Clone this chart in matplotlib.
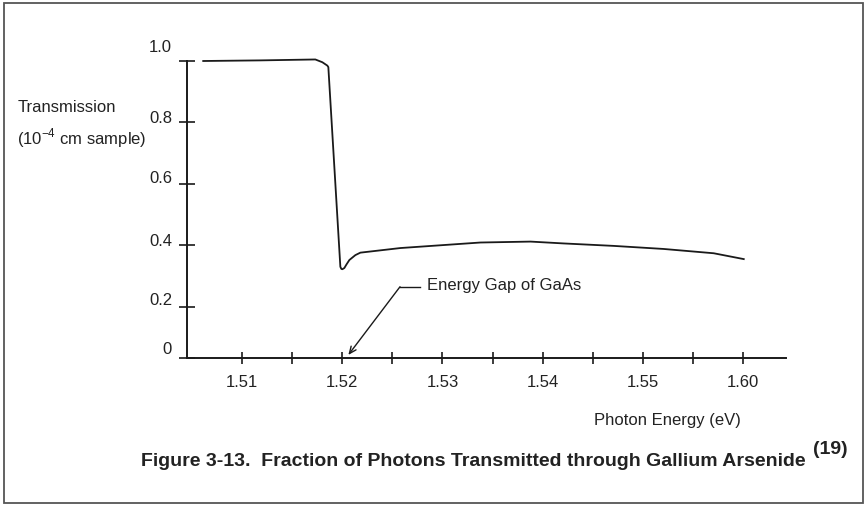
import matplotlib
matplotlib.use("Agg")
import matplotlib.pyplot as plt
from matplotlib.patches import Rectangle

plt.rcParams['font.family'] = ['Liberation Sans', 'DejaVu Sans']

# curve (photon energy in eV, transmission)
energy = [1.5061, 1.5118, 1.5173, 1.5180, 1.5185, 1.5186, 1.5198, 1.5199,
          1.5200, 1.5202, 1.5204, 1.5207, 1.5213, 1.5218, 1.5258, 1.5338,
          1.5388, 1.5421, 1.5471, 1.5521, 1.5571, 1.5601]
transmission = [1.000, 1.002, 1.005, 0.996, 0.985, 0.980, 0.330, 0.323,
                0.322, 0.326, 0.337, 0.352, 0.368, 0.376, 0.391, 0.409,
                0.412, 0.406, 0.398, 0.388, 0.374, 0.355]

x_ticks = [1.51, 1.515, 1.52, 1.525, 1.53, 1.535, 1.54, 1.545, 1.55, 1.555, 1.56]
x_labels = ['1.51', '', '1.52', '', '1.53', '', '1.54', '', '1.55', '', '1.60']
y_ticks = [0.032, 0.2, 0.4, 0.6, 0.8, 1.0]
y_labels = ['0', '0.2', '0.4', '0.6', '0.8', '1.0']
gap_energy = 1.5206

W, H = 865, 505
fig = plt.figure(figsize=(W / 100, H / 100), dpi=100)
ax = fig.add_axes([186.7 / W, (H - 358.3) / H, 599.3 / W, 297.3 / H])

ax.plot(energy, transmission, color='#1a1a1a', lw=1.3, clip_on=False)
ax.set_xlim(1.50445, 1.56432)
ax.set_ylim(y_ticks[0], 1.0)

for s in ['top', 'right']:
    ax.spines[s].set_visible(False)
for s in ['left', 'bottom']:
    ax.spines[s].set_linewidth(1.4)
    ax.spines[s].set_color('#1a1a1a')

ax.set_xticks(x_ticks)
ax.set_xticklabels(x_labels)
ax.set_yticks(y_ticks)
ax.set_yticklabels([])
ax.tick_params(axis='x', direction='inout', length=8, width=1.2, color='#1a1a1a',
               pad=8, labelsize=12, labelcolor='#222222')
ax.tick_params(axis='y', direction='inout', length=11, width=1.2, color='#1a1a1a')

# y tick labels sit a little above their ticks
ytr = ax.get_yaxis_transform()
y_offsets = [6, 4.5, 3, 3.5, 3, 10]
for val, lab, off in zip(y_ticks, y_labels, y_offsets):
    ax.annotate(lab, xy=(0, val), xycoords=ytr, xytext=(-10.5, off),
                textcoords='offset points', ha='right', va='center',
                fontsize=12, color='#222222')

# energy gap label and leader
ax.plot([1.52576, 1.52776], [0.265, 0.265], color='#1a1a1a', lw=1.0)
ax.annotate('', xy=(gap_energy, 0.043), xytext=(1.52576, 0.265),
            arrowprops=dict(arrowstyle='->,head_length=0.5,head_width=0.22',
                            color='#1a1a1a', lw=1.0, shrinkA=0, shrinkB=0))
ax.text(1.52843, 0.268, 'Energy Gap of GaAs', fontsize=12, va='center',
        ha='left', color='#222222')

fig.text(18 / W, 1 - 108 / H, 'Transmission', fontsize=12, va='center',
         color='#222222')
fig.text(17 / W, 1 - 138 / H, r'(10$^{\mathregular{-4}}$ cm sample)', fontsize=12,
         va='center', color='#222222')
fig.text(594 / W, 1 - 420 / H, 'Photon Energy (eV)', fontsize=12, va='center',
         color='#222222')
fig.text(806 / W, 1 - 462 / H,
         'Figure 3-13.  Fraction of Photons Transmitted through Gallium Arsenide',
         fontsize=14, fontweight='bold', ha='right', va='center', color='#222222')
fig.text(813 / W, 1 - 450 / H, '(19)', fontsize=14, fontweight='bold',
         ha='left', va='center', color='#222222')

fig.patches.append(Rectangle((4 / W, 2 / H), 859 / W, 500 / H, fill=False,
                             edgecolor='#555555', lw=1.3,
                             transform=fig.transFigure, figure=fig))

fig.savefig('out.png', dpi=100)
